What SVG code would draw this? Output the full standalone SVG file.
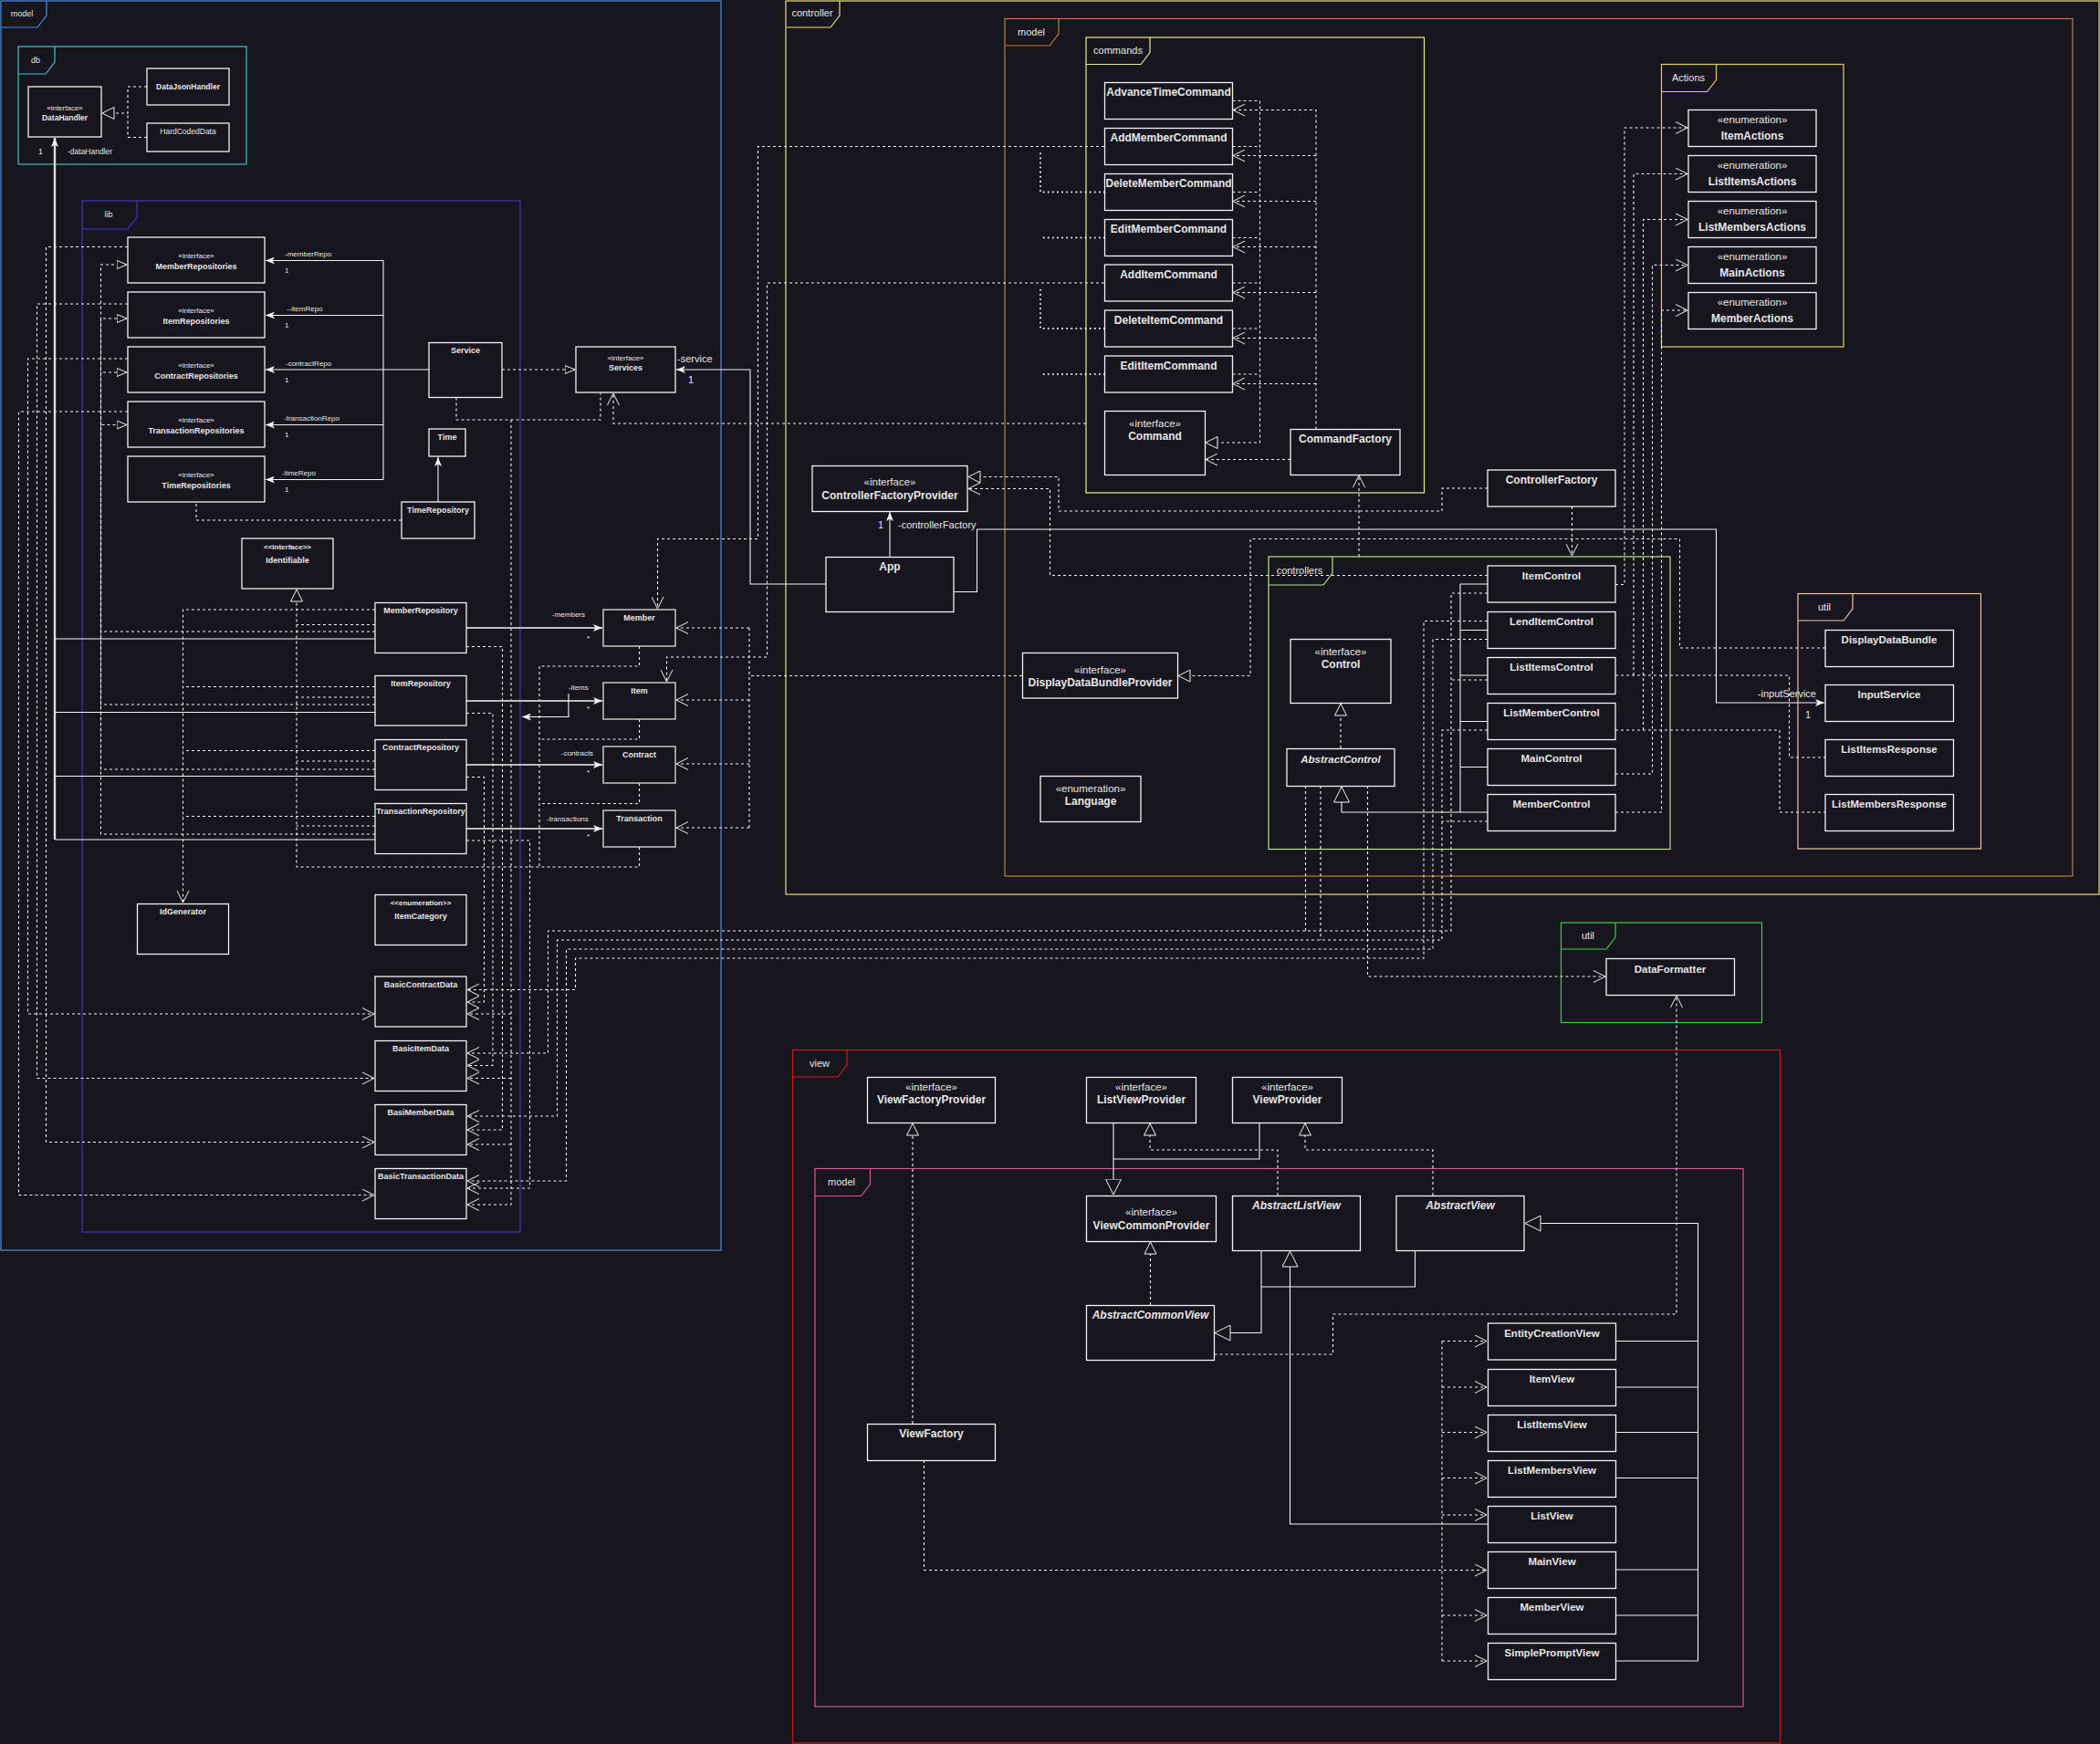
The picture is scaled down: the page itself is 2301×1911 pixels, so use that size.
<svg xmlns="http://www.w3.org/2000/svg" width="2301" height="1911" viewBox="0 0 2301 1911">
<style>
.n{fill:#17151e;stroke:#f2f2f2;stroke-width:1.3}
.ng{fill:#17151e;stroke:#c8c8c8;stroke-width:1.5}
.t{font-family:"Liberation Sans",Arial,sans-serif;fill:#e6e6e6;font-weight:bold;text-anchor:middle}
.st{font-family:"Liberation Sans",Arial,sans-serif;fill:#e6e6e6;font-weight:normal;text-anchor:middle}
.l{font-family:"Liberation Sans",Arial,sans-serif;fill:#e6e6e6;font-weight:normal}
.s9{font-size:9px}.s8{font-size:8px}.s85{font-size:8.5px}.s11{font-size:11px}.s115{font-size:11.5px}.s12{font-size:12px}
.it{font-style:italic}
.fl{font-family:"Liberation Sans",Arial,sans-serif;fill:#e6e6e6;stroke:none;font-weight:normal;text-anchor:middle}
.c{fill:none;stroke:#f2f2f2;stroke-width:1.1}
.cg{fill:none;stroke:#bdbdbd;stroke-width:1.8}
.d{fill:none;stroke:#f2f2f2;stroke-width:1.1;stroke-dasharray:3 3}
.o{fill:none;stroke:#f2f2f2;stroke-width:2;stroke-dasharray:0.1 5;stroke-linecap:round}
.fr{fill:none;stroke-width:1.2}
</style>
<defs>
<marker id="tri" viewBox="0 0 12 10" refX="11.5" refY="5" markerWidth="12" markerHeight="10" markerUnits="userSpaceOnUse" orient="auto"><path d="M0.5,0.5 L11.5,5 L0.5,9.5 Z" fill="#17151e" stroke="#f2f2f2" stroke-width="1"/></marker>
<marker id="triM" viewBox="0 0 14 14" refX="13.5" refY="7" markerWidth="14" markerHeight="14" markerUnits="userSpaceOnUse" orient="auto"><path d="M0.5,0.5 L13.5,7 L0.5,13.5 Z" fill="#17151e" stroke="#f2f2f2" stroke-width="1"/></marker>
<marker id="triL" viewBox="0 0 18 18" refX="17.5" refY="9" markerWidth="18" markerHeight="18" markerUnits="userSpaceOnUse" orient="auto"><path d="M0.5,0.5 L17.5,9 L0.5,17.5 Z" fill="#17151e" stroke="#f2f2f2" stroke-width="1"/></marker>
<marker id="vee" viewBox="0 0 14 14" refX="13.5" refY="7" markerWidth="14" markerHeight="14" markerUnits="userSpaceOnUse" orient="auto"><path d="M0.5,0.5 L13.5,7 L0.5,13.5" fill="none" stroke="#f2f2f2" stroke-width="1"/></marker>
<marker id="arr" viewBox="0 0 10 8" refX="10" refY="4" markerWidth="10" markerHeight="8" markerUnits="userSpaceOnUse" orient="auto"><path d="M0,0 L10,4 L0,8 L2.5,4 Z" fill="#f2f2f2"/></marker>
</defs>
<rect x="0" y="0" width="2301" height="1911" fill="#17151e"/>

<g id="frames">
<g id="frame-model"><rect class="fr" stroke="#4c90d8" x="1" y="1" width="789" height="1369"/><path class="fr" stroke="#4c90d8" d="M1,30 H41 L51,17 V1"/><text class="fl" x="24" y="18" font-size="9px">model</text></g>
<g id="frame-db"><rect class="fr" stroke="#3ec4c8" x="20" y="51" width="250" height="129"/><path class="fr" stroke="#3ec4c8" d="M20,81 H50 L60,68 V51"/><text class="fl" x="39" y="69" font-size="9px">db</text></g>
<g id="frame-lib"><rect class="fr" stroke="#3b36c6" x="90" y="220" width="480" height="1130"/><path class="fr" stroke="#3b36c6" d="M90,251 H140 L150,238 V220"/><text class="fl" x="119" y="238" font-size="9px">lib</text></g>
<g id="frame-controller"><rect class="fr" stroke="#e8e27c" x="861" y="1" width="1439" height="979"/><path class="fr" stroke="#e8e27c" d="M861,30 H910 L920,17 V1"/><text class="fl" x="890" y="18" font-size="11px">controller</text></g>
<g id="frame-cmodel"><rect class="fr" stroke="#c97a32" x="1101" y="20.5" width="1170" height="939.5"/><path class="fr" stroke="#c97a32" d="M1101,50 H1150 L1160,37 V20.5"/><text class="fl" x="1130" y="39" font-size="11px">model</text></g>
<g id="frame-commands"><rect class="fr" stroke="#eeee88" x="1190" y="41" width="370.5" height="499"/><path class="fr" stroke="#eeee88" d="M1190,70.5 H1250 L1260,57.5 V41"/><text class="fl" x="1225" y="59" font-size="11px">commands</text></g>
<g id="frame-actions"><rect class="fr" stroke="#e4d054" x="1820.5" y="70.5" width="199.5" height="309.5"/><path class="fr" stroke="#e4d054" d="M1820.5,100.5 H1870.5 L1880.5,87.5 V70.5"/><text class="fl" x="1850" y="89" font-size="11px">Actions</text></g>
<g id="frame-controllers"><rect class="fr" stroke="#b8e68c" x="1390" y="610" width="440" height="320.5"/><path class="fr" stroke="#b8e68c" d="M1390,641 H1450 L1460,628 V610"/><text class="fl" x="1424" y="629" font-size="11px">controllers</text></g>
<g id="frame-cutil"><rect class="fr" stroke="#f0c8a0" x="1970" y="650.5" width="200.5" height="279.5"/><path class="fr" stroke="#f0c8a0" d="M1970,680 H2020 L2030,667 V650.5"/><text class="fl" x="1999" y="669" font-size="11px">util</text></g>
<g id="frame-util"><rect class="fr" stroke="#3ed03e" x="1710.5" y="1011" width="220" height="109.5"/><path class="fr" stroke="#3ed03e" d="M1710.5,1040 H1760 L1770,1027 V1011"/><text class="fl" x="1740" y="1029" font-size="11px">util</text></g>
<g id="frame-view"><rect class="fr" stroke="#d01a1a" x="868.5" y="1150.5" width="1082" height="759.5"/><path class="fr" stroke="#d01a1a" d="M868.5,1180 H918 L928,1167 V1150.5"/><text class="fl" x="898" y="1169" font-size="11px">view</text></g>
<g id="frame-vmodel"><rect class="fr" stroke="#e0529a" x="893" y="1280.5" width="1017" height="589.5"/><path class="fr" stroke="#e0529a" d="M893,1310.5 H943.5 L953.5,1297.5 V1280.5"/><text class="fl" x="922" y="1299" font-size="11px">model</text></g>
</g>

<g id="connectors">
<path class="d" d="M161,95 H140 V124 H112" marker-end="url(#triM)"/>
<path class="d" d="M161,150.5 H140 V124"/>
<path fill="none" stroke="#dddddd" stroke-width="2.4" d="M60,920 V151" marker-end="url(#arr)"/>
<path class="c" d="M411,700 H60 M411,780.5 H60 M411,850.5 H60 M411,920 H60"/>
<text class="l s85" x="42" y="169">1</text><text class="l s85" x="74" y="169">-dataHandler</text>
<path class="c" d="M420,285.5 V525.5 M470,405 H420"/>
<path class="c" d="M420,285.5 H291" marker-end="url(#arr)"/>
<path class="c" d="M420,345.5 H291" marker-end="url(#arr)"/>
<path class="c" d="M420,405 H291" marker-end="url(#arr)"/>
<path class="c" d="M420,465.5 H291" marker-end="url(#arr)"/>
<path class="c" d="M420,525.5 H291" marker-end="url(#arr)"/>
<text class="l s8" x="312" y="281">-memberRepo</text><text class="l s8" x="312" y="299">1</text>
<text class="l s8" x="314" y="341">--itemRepo</text><text class="l s8" x="312" y="359">1</text>
<text class="l s8" x="313" y="401">-contractRepo</text><text class="l s8" x="312" y="419">1</text>
<text class="l s8" x="311" y="461">-transactionRepo</text><text class="l s8" x="312" y="479">1</text>
<text class="l s8" x="309" y="521">-timeRepo</text><text class="l s8" x="312" y="539">1</text>
<path class="d" d="M550,405 H630" marker-end="url(#tri)"/>
<path class="c" d="M905,640 H822 V405 H741" marker-end="url(#arr)"/>
<text class="l s11" x="742" y="397">-service</text><text class="l s11" x="754" y="420">1</text>
<path class="d" d="M500,435.5 V460 H658 V430.5"/>
<path class="d" d="M560,460 V1320 H512" marker-end="url(#vee)"/>
<path class="d" d="M560,1111 H512" marker-end="url(#vee)"/>
<path class="d" d="M560,1181.5 H512" marker-end="url(#vee)"/>
<path class="d" d="M560,1254 H512" marker-end="url(#vee)"/>
<path class="d" d="M1190,464 H672 V431" marker-end="url(#vee)"/>
<path class="c" d="M480,550 V501" marker-end="url(#arr)"/>
<path class="d" d="M440,570 H215 V501" marker-end="url(#tri)"/>
<path class="d" d="M411,692 H110.5 V290 H139" marker-end="url(#tri)"/>
<path class="d" d="M411,772 H110.5 V349 H139" marker-end="url(#tri)"/>
<path class="d" d="M411,843 H110.5 V408 H139" marker-end="url(#tri)"/>
<path class="d" d="M411,914 H110.5 V465.5 H139" marker-end="url(#tri)"/>
<path class="d" d="M140,270.5 H50.5 V1251.5 H410" marker-end="url(#vee)"/>
<path class="d" d="M140,333 H40.5 V1181.5 H410" marker-end="url(#vee)"/>
<path class="d" d="M140,393 H30.5 V1111 H410" marker-end="url(#vee)"/>
<path class="d" d="M140,451 H20.5 V1309.5 H410" marker-end="url(#vee)"/>
<path class="d" d="M411,668 H200.5 V989" marker-end="url(#vee)"/>
<path class="d" d="M411,752.5 H200.5 M411,822.5 H200.5 M411,894.5 H200.5"/>
<path class="d" d="M411,684.5 H325 M411,764 H325 M411,834 H325 M411,905 H325"/>
<path class="d" d="M700.5,928 V950 H325 V646" marker-end="url(#triM)"/>
<path class="d" d="M700.5,708 V730 H591 M700.5,788 V810 H591 M700.5,858 V880.5 H591 M591,730 V950"/>
<path class="cg" d="M511,688 H660" marker-end="url(#arr)"/>
<path class="cg" d="M511,768 H660" marker-end="url(#arr)"/>
<path class="cg" d="M511,838 H660" marker-end="url(#arr)"/>
<path class="cg" d="M511,908 H660" marker-end="url(#arr)"/>
<path class="c" d="M623,760 V785.5 H572" marker-end="url(#arr)"/>
<text class="l s8" x="605" y="676">-members</text><text class="l s8" x="643" y="702">*</text>
<text class="l s8" x="623" y="756">-items</text><text class="l s8" x="643" y="779">*</text>
<text class="l s8" x="615" y="828">-contracts</text><text class="l s8" x="643" y="849">*</text>
<text class="l s8" x="599" y="900">-transactions</text><text class="l s8" x="643" y="919">*</text>
<path class="d" d="M511,708.5 H550.5 V1238 H512" marker-end="url(#vee)"/>
<path class="d" d="M511,781.5 H540 V1167.5 H512" marker-end="url(#vee)"/>
<path class="d" d="M511,851.5 H530.5 V1098 H512" marker-end="url(#vee)"/>
<path class="d" d="M511,921 H580.5 V1302 H512" marker-end="url(#vee)"/>
<path class="d" d="M1630,650 H1590 V1020 H600.5 V1154 H512" marker-end="url(#vee)"/>
<path class="d" d="M1630,800 H1580 V1030 H610.5 V1223 H512" marker-end="url(#vee)"/>
<path class="d" d="M1630,700.5 H1570 V1040 H620.5 V1294 H512" marker-end="url(#vee)"/>
<path class="d" d="M1630,680.5 H1560 V1050 H630.5 V1084.5 H512" marker-end="url(#vee)"/>
<path class="d" d="M1630,745 H1590 M1630,900 H1580 M1430.5,861 V1020 M1447,861 V1030"/>
<path class="d" d="M1498.5,861 V1070 H1759" marker-end="url(#vee)"/>
<path class="d" d="M1469,820 V771" marker-end="url(#triM)"/>
<path class="c" d="M1630,890 H1470 V862" marker-end="url(#triL)"/>
<path class="c" d="M1600,640 V890 M1630,640 H1600 M1630,690.5 H1600 M1630,740 H1600 M1630,790.5 H1600 M1630,840.5 H1600"/>
<path class="d" d="M1630,535 H1580 V560 H1160 V522.5 H1061" marker-end="url(#triM)"/>
<path class="d" d="M1630,630.5 H1150.5 V535.5 H1061" marker-end="url(#vee)"/>
<path class="d" d="M1722.5,555 V609" marker-end="url(#vee)"/>
<path class="d" d="M1489,610 V521" marker-end="url(#vee)"/>
<path class="c" d="M975,610 V561" marker-end="url(#arr)"/>
<text class="l s11" x="962" y="579">1</text><text class="l s11" x="984" y="579">-controllerFactory</text>
<path class="c" d="M1045,648.5 H1070.5 V580 H1880.5 V770 H1999" marker-end="url(#arr)"/>
<text class="l s11" x="1990" y="764" text-anchor="end">-inputService</text><text class="l s11" x="1978" y="787">1</text>
<path class="d" d="M2000,710 H1840.5 V590.5 H1370 V740.5 H1291" marker-end="url(#triM)"/>
<path class="d" d="M1120,740.5 H821 M821,688 V907"/>
<path class="d" d="M821,688 H741" marker-end="url(#vee)"/>
<path class="d" d="M821,767 H741" marker-end="url(#vee)"/>
<path class="d" d="M821,837 H741" marker-end="url(#vee)"/>
<path class="d" d="M821,907 H741" marker-end="url(#vee)"/>
<path class="d" d="M1770,740 H1960.5 V830 H2000 M1770,800 H1950 V890 H2000"/>
<path class="d" d="M1770,640.5 H1780 V140 H1849" marker-end="url(#vee)"/>
<path class="d" d="M1790,740 V190.5 H1849" marker-end="url(#vee)"/>
<path class="d" d="M1800.5,800 V240.5 H1849" marker-end="url(#vee)"/>
<path class="d" d="M1770,848 H1810.5 V290.5 H1849" marker-end="url(#vee)"/>
<path class="d" d="M1770,890 H1820.5 V340 H1849" marker-end="url(#vee)"/>
<path class="d" d="M1350.5,110.5 H1380.5 M1350.5,160.5 H1380.5 M1350.5,210.5 H1380.5 M1350.5,260.5 H1380.5 M1350.5,310 H1380.5 M1350.5,360 H1380.5 M1350.5,410 H1380.5"/>
<path class="d" d="M1380.5,110.5 V485 H1321" marker-end="url(#triM)"/>
<path class="d" d="M1442,470.5 V120.5 H1351" marker-end="url(#vee)"/>
<path class="d" d="M1442,170.5 H1351" marker-end="url(#vee)"/>
<path class="d" d="M1442,220.5 H1351" marker-end="url(#vee)"/>
<path class="d" d="M1442,270.5 H1351" marker-end="url(#vee)"/>
<path class="d" d="M1442,320.5 H1351" marker-end="url(#vee)"/>
<path class="d" d="M1442,370.5 H1351" marker-end="url(#vee)"/>
<path class="d" d="M1442,420.5 H1351" marker-end="url(#vee)"/>
<path class="d" d="M1414,503.5 H1321" marker-end="url(#vee)"/>
<path class="d" d="M1210,160.5 H830.5 V590.5 H720.5 V667" marker-end="url(#vee)"/>
<path class="d" d="M1210,310 H840.5 V720 H730.5 V747" marker-end="url(#vee)"/>
<path class="o" d="M1210,210.5 H1140 V166 M1210,260.5 H1140 M1210,360 H1140 V315 M1210,410 H1140"/>
<path class="d" d="M1330.5,1484 H1460.5 V1440 H1837 V1091" marker-end="url(#vee)"/>
<path class="d" d="M1000,1560 V1231" marker-end="url(#triM)"/>
<path class="d" d="M1012.5,1600 V1720.5 H1629" marker-end="url(#vee)"/>
<path class="d" d="M1580,1469.5 V1820"/>
<path class="d" d="M1580,1469.5 H1629" marker-end="url(#vee)"/>
<path class="d" d="M1580,1520 H1629" marker-end="url(#vee)"/>
<path class="d" d="M1580,1569.5 H1629" marker-end="url(#vee)"/>
<path class="d" d="M1580,1619.5 H1629" marker-end="url(#vee)"/>
<path class="d" d="M1580,1660 H1629" marker-end="url(#vee)"/>
<path class="d" d="M1580,1770 H1629" marker-end="url(#vee)"/>
<path class="d" d="M1580,1820 H1629" marker-end="url(#vee)"/>
<path class="d" d="M1400,1310 V1260 H1260 V1231" marker-end="url(#triM)"/>
<path class="d" d="M1570,1310 V1260 H1430 V1231" marker-end="url(#triM)"/>
<path class="d" d="M1260.5,1430 V1361" marker-end="url(#triM)"/>
<path class="c" d="M1220,1230 V1309" marker-end="url(#triL)"/>
<path class="c" d="M1380,1230 V1270 H1220"/>
<path class="c" d="M1382,1370 V1460.5 H1331" marker-end="url(#triL)"/>
<path class="c" d="M1550.5,1370 V1410 H1382"/>
<path class="c" d="M1630,1670 H1413.5 V1371" marker-end="url(#triL)"/>
<path class="c" d="M1860.5,1820 V1340.5 H1671" marker-end="url(#triL)"/>
<path class="c" d="M1770,1469.5 H1860.5 M1770,1520 H1860.5 M1770,1569.5 H1860.5 M1770,1619.5 H1860.5 M1770,1720 H1860.5 M1770,1770 H1860.5 M1770,1820 H1860.5"/>
</g>

<g id="DataHandler"><rect class="n" x="31" y="95" width="80" height="55"/><text class="st s8" x="71" y="120.5">«interface»</text><text class="t s85" x="71" y="132">DataHandler</text></g>
<g id="DataJsonHandler"><rect class="n" x="161" y="75" width="90" height="40"/><text class="t s85" x="206" y="98">DataJsonHandler</text></g>
<g id="HardCodedData"><rect class="n" x="161" y="135" width="90" height="31"/><text class="st s85" x="206" y="147">HardCodedData</text></g>

<g id="MemberRepositories"><rect class="n" x="140" y="260" width="150" height="50"/><text class="st s8" x="215" y="283">«interface»</text><text class="t s9" x="215" y="294.5">MemberRepositories</text></g>
<g id="ItemRepositories"><rect class="n" x="140" y="320" width="150" height="50"/><text class="st s8" x="215" y="343">«interface»</text><text class="t s9" x="215" y="354.5">ItemRepositories</text></g>
<g id="ContractRepositories"><rect class="n" x="140" y="380" width="150" height="50"/><text class="st s8" x="215" y="403">«interface»</text><text class="t s9" x="215" y="414.5">ContractRepositories</text></g>
<g id="TransactionRepositories"><rect class="n" x="140" y="440" width="150" height="50"/><text class="st s8" x="215" y="463">«interface»</text><text class="t s9" x="215" y="474.5">TransactionRepositories</text></g>
<g id="TimeRepositories"><rect class="n" x="140" y="500" width="150" height="50"/><text class="st s8" x="215" y="523">«interface»</text><text class="t s9" x="215" y="534.5">TimeRepositories</text></g>
<g id="Service"><rect class="n" x="470" y="375.5" width="80" height="60"/><text class="t s9" x="510" y="387">Service</text></g>
<g id="Services"><rect class="n" x="631" y="380" width="109" height="50"/><text class="st s8" x="685.5" y="395">«interface»</text><text class="t s9" x="685.5" y="406">Services</text></g>
<g id="Time"><rect class="n" x="470" y="470" width="40" height="30"/><text class="t s9" x="490" y="482">Time</text></g>
<g id="TimeRepository"><rect class="n" x="440" y="550" width="80" height="40"/><text class="t s9" x="480" y="562">TimeRepository</text></g>
<g id="Identifiable"><rect class="n" x="265" y="590" width="100" height="55"/><text class="t s8" x="315" y="602">&lt;&lt;interface&gt;&gt;</text><text class="t s9" x="315" y="617">Identifiable</text></g>
<g id="MemberRepository"><rect class="n" x="411" y="660.5" width="100" height="55"/><text class="t s9" x="461" y="672">MemberRepository</text></g>
<g id="ItemRepository"><rect class="n" x="411" y="740.5" width="100" height="54.5"/><text class="t s9" x="461" y="752">ItemRepository</text></g>
<g id="ContractRepository"><rect class="n" x="411" y="810.5" width="100" height="55"/><text class="t s9" x="461" y="822">ContractRepository</text></g>
<g id="TransactionRepository"><rect class="n" x="411" y="880.5" width="100" height="55"/><text class="t s9" x="461" y="892">TransactionRepository</text></g>
<g id="IdGenerator"><rect class="n" x="150.5" y="990.5" width="100" height="55"/><text class="t s9" x="200.5" y="1002">IdGenerator</text></g>
<g id="ItemCategory"><rect class="n" x="411" y="980.5" width="100" height="55"/><text class="t s8" x="461" y="992">&lt;&lt;enumeration&gt;&gt;</text><text class="t s9" x="461" y="1007">ItemCategory</text></g>
<g id="BasicContractData"><rect class="n" x="411" y="1070" width="100" height="55"/><text class="t s9" x="461" y="1081.5">BasicContractData</text></g>
<g id="BasicItemData"><rect class="n" x="411" y="1140.5" width="100" height="55"/><text class="t s9" x="461" y="1152">BasicItemData</text></g>
<g id="BasiMemberData"><rect class="n" x="411" y="1210.5" width="100" height="55"/><text class="t s9" x="461" y="1222">BasiMemberData</text></g>
<g id="BasicTransactionData"><rect class="n" x="411" y="1280.5" width="100" height="55"/><text class="t s9" x="461" y="1292">BasicTransactionData</text></g>
<g id="Member"><rect class="ng" x="661" y="668" width="79" height="40"/><text class="t s9" x="700.5" y="680">Member</text></g>
<g id="Item"><rect class="ng" x="661" y="748" width="79" height="40"/><text class="t s9" x="700.5" y="760">Item</text></g>
<g id="Contract"><rect class="ng" x="661" y="818" width="79" height="40"/><text class="t s9" x="700.5" y="830">Contract</text></g>
<g id="Transaction"><rect class="ng" x="661" y="888" width="79" height="40"/><text class="t s9" x="700.5" y="900">Transaction</text></g>

<g id="AdvanceTimeCommand"><rect class="n" x="1210.5" y="90.5" width="140" height="40"/><text class="t s12" x="1280.5" y="105">AdvanceTimeCommand</text></g>
<g id="AddMemberCommand"><rect class="n" x="1210.5" y="140.5" width="140" height="40"/><text class="t s12" x="1280.5" y="155">AddMemberCommand</text></g>
<g id="DeleteMemberCommand"><rect class="n" x="1210.5" y="190.5" width="140" height="40"/><text class="t s12" x="1280.5" y="205" textLength="138" lengthAdjust="spacingAndGlyphs">DeleteMemberCommand</text></g>
<g id="EditMemberCommand"><rect class="n" x="1210.5" y="240.5" width="140" height="40"/><text class="t s12" x="1280.5" y="255">EditMemberCommand</text></g>
<g id="AddItemCommand"><rect class="n" x="1210.5" y="290" width="140" height="40"/><text class="t s12" x="1280.5" y="305">AddItemCommand</text></g>
<g id="DeleteItemCommand"><rect class="n" x="1210.5" y="340" width="140" height="40"/><text class="t s12" x="1280.5" y="355">DeleteItemCommand</text></g>
<g id="EditItemCommand"><rect class="n" x="1210.5" y="390" width="140" height="40"/><text class="t s12" x="1280.5" y="405">EditItemCommand</text></g>
<g id="Command"><rect class="n" x="1210.5" y="450.5" width="110" height="70"/><text class="st s115" x="1265.5" y="468">«interface»</text><text class="t s12" x="1265.5" y="482">Command</text></g>
<g id="CommandFactory"><rect class="n" x="1414" y="470.5" width="120" height="50"/><text class="t s12" x="1474" y="485">CommandFactory</text></g>
<g id="ControllerFactoryProvider"><rect class="n" x="890" y="510.5" width="170" height="50"/><text class="st s115" x="975" y="532">«interface»</text><text class="t s12" x="975" y="547">ControllerFactoryProvider</text></g>
<g id="App"><rect class="n" x="905" y="610.5" width="140" height="60"/><text class="t s12" x="975" y="625">App</text></g>
<g id="ControllerFactory"><rect class="n" x="1630" y="515" width="140" height="40"/><text class="t s12" x="1700" y="530">ControllerFactory</text></g>
<g id="DisplayDataBundleProvider"><rect class="n" x="1120.5" y="715.5" width="170" height="49.5"/><text class="st s115" x="1205.5" y="738">«interface»</text><text class="t s12" x="1205.5" y="752">DisplayDataBundleProvider</text></g>
<g id="Language"><rect class="n" x="1140" y="850.5" width="110" height="50"/><text class="st s115" x="1195" y="868">«enumeration»</text><text class="t s12" x="1195" y="882">Language</text></g>
<g id="ItemActions"><rect class="n" x="1850" y="120.5" width="140" height="40"/><text class="st s115" x="1920" y="135">«enumeration»</text><text class="t s12" x="1920" y="153">ItemActions</text></g>
<g id="ListItemsActions"><rect class="n" x="1850" y="170.5" width="140" height="40"/><text class="st s115" x="1920" y="185">«enumeration»</text><text class="t s12" x="1920" y="203">ListItemsActions</text></g>
<g id="ListMembersActions"><rect class="n" x="1850" y="220.5" width="140" height="40"/><text class="st s115" x="1920" y="235">«enumeration»</text><text class="t s12" x="1920" y="253">ListMembersActions</text></g>
<g id="MainActions"><rect class="n" x="1850" y="270.5" width="140" height="40"/><text class="st s115" x="1920" y="285">«enumeration»</text><text class="t s12" x="1920" y="303">MainActions</text></g>
<g id="MemberActions"><rect class="n" x="1850" y="320.5" width="140" height="40"/><text class="st s115" x="1920" y="335">«enumeration»</text><text class="t s12" x="1920" y="353">MemberActions</text></g>
<g id="Control"><rect class="n" x="1414" y="700.5" width="110" height="70"/><text class="st s115" x="1469" y="718">«interface»</text><text class="t s12" x="1469" y="732">Control</text></g>
<g id="AbstractControl"><rect class="n" x="1410" y="820.5" width="118" height="41"/><text class="t s115 it" x="1469" y="835.5">AbstractControl</text></g>
<g id="ItemControl"><rect class="n" x="1630" y="620" width="140" height="40"/><text class="t s115" x="1700" y="634.5">ItemControl</text></g>
<g id="LendItemControl"><rect class="n" x="1630" y="670.5" width="140" height="40"/><text class="t s115" x="1700" y="685">LendItemControl</text></g>
<g id="ListItemsControl"><rect class="n" x="1630" y="720.5" width="140" height="40"/><text class="t s115" x="1700" y="735">ListItemsControl</text></g>
<g id="ListMemberControl"><rect class="n" x="1630" y="770.5" width="140" height="40"/><text class="t s115" x="1700" y="785">ListMemberControl</text></g>
<g id="MainControl"><rect class="n" x="1630" y="820.5" width="140" height="40"/><text class="t s115" x="1700" y="835">MainControl</text></g>
<g id="MemberControl"><rect class="n" x="1630" y="870.5" width="140" height="40"/><text class="t s115" x="1700" y="885">MemberControl</text></g>
<g id="DisplayDataBundle"><rect class="n" x="2000" y="690.5" width="140.5" height="40"/><text class="t s115" x="2070" y="705">DisplayDataBundle</text></g>
<g id="InputService"><rect class="n" x="2000" y="750.5" width="140.5" height="40"/><text class="t s115" x="2070" y="765">InputService</text></g>
<g id="ListItemsResponse"><rect class="n" x="2000" y="810.5" width="140.5" height="40"/><text class="t s115" x="2070" y="825">ListItemsResponse</text></g>
<g id="ListMembersResponse"><rect class="n" x="2000" y="870.5" width="140.5" height="40"/><text class="t s115" x="2070" y="885">ListMembersResponse</text></g>
<g id="DataFormatter"><rect class="n" x="1760" y="1050.5" width="140.5" height="40"/><text class="t s115" x="1830" y="1065.5">DataFormatter</text></g>

<g id="ViewFactoryProvider"><rect class="n" x="950.5" y="1180.5" width="140" height="50"/><text class="st s115" x="1020.5" y="1195">«interface»</text><text class="t s12" x="1020.5" y="1208.5">ViewFactoryProvider</text></g>
<g id="ListViewProvider"><rect class="n" x="1190.5" y="1180.5" width="120" height="50"/><text class="st s115" x="1250.5" y="1195">«interface»</text><text class="t s12" x="1250.5" y="1208.5">ListViewProvider</text></g>
<g id="ViewProvider"><rect class="n" x="1350.5" y="1180.5" width="120" height="50"/><text class="st s115" x="1410.5" y="1195">«interface»</text><text class="t s12" x="1410.5" y="1208.5">ViewProvider</text></g>
<g id="ViewCommonProvider"><rect class="n" x="1190.5" y="1310.5" width="142" height="50"/><text class="st s115" x="1261.5" y="1332">«interface»</text><text class="t s12" x="1261.5" y="1347">ViewCommonProvider</text></g>
<g id="AbstractListView"><rect class="n" x="1350.5" y="1310.5" width="140" height="60"/><text class="t s12 it" x="1420.5" y="1324.5">AbstractListView</text></g>
<g id="AbstractView"><rect class="n" x="1530" y="1310.5" width="140" height="60"/><text class="t s12 it" x="1600" y="1324.5">AbstractView</text></g>
<g id="AbstractCommonView"><rect class="n" x="1190.5" y="1430.5" width="140" height="60"/><text class="t s12 it" x="1260.5" y="1444.5">AbstractCommonView</text></g>
<g id="ViewFactory"><rect class="n" x="950.5" y="1560.5" width="140" height="40"/><text class="t s12" x="1020.5" y="1575">ViewFactory</text></g>
<g id="EntityCreationView"><rect class="n" x="1630.5" y="1450" width="140" height="40"/><text class="t s115" x="1700.5" y="1465">EntityCreationView</text></g>
<g id="ItemView"><rect class="n" x="1630.5" y="1500.5" width="140" height="40"/><text class="t s115" x="1700.5" y="1515">ItemView</text></g>
<g id="ListItemsView"><rect class="n" x="1630.5" y="1550.5" width="140" height="40"/><text class="t s115" x="1700.5" y="1565">ListItemsView</text></g>
<g id="ListMembersView"><rect class="n" x="1630.5" y="1600.5" width="140" height="40"/><text class="t s115" x="1700.5" y="1615">ListMembersView</text></g>
<g id="ListView"><rect class="n" x="1630.5" y="1650.5" width="140" height="40"/><text class="t s115" x="1700.5" y="1665">ListView</text></g>
<g id="MainView"><rect class="n" x="1630.5" y="1700.5" width="140" height="40"/><text class="t s115" x="1700.5" y="1715">MainView</text></g>
<g id="MemberView"><rect class="n" x="1630.5" y="1750.5" width="140" height="40"/><text class="t s115" x="1700.5" y="1765">MemberView</text></g>
<g id="SimplePromptView"><rect class="n" x="1630.5" y="1800.5" width="140" height="40"/><text class="t s115" x="1700.5" y="1815">SimplePromptView</text></g>
</svg>
